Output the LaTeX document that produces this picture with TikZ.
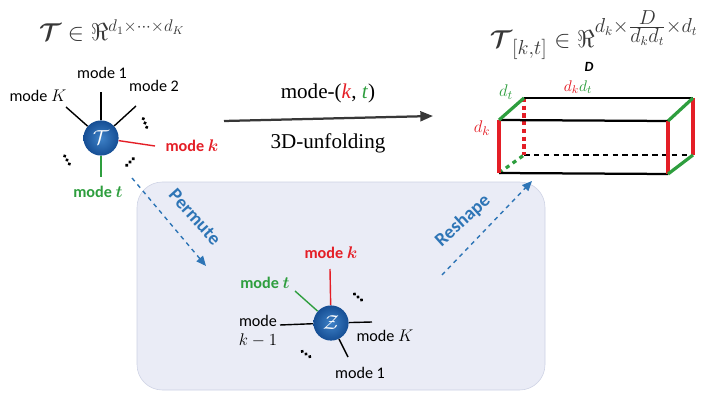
\documentclass[tikz,border=0pt]{standalone}
\usepackage{amsmath}
\usepackage{amssymb}
\usepackage{bm}
\usepackage{fontspec}
\setmainfont{Carlito}
\newfontfamily\timesfont{Liberation Serif}
\usepackage{xcolor}
\usetikzlibrary{
    shapes,
    calc,
    positioning,
    arrows.meta
}

\definecolor{modered}{RGB}{228,30,38}
\definecolor{modegreen}{RGB}{46,158,62}
\definecolor{opblue}{RGB}{46,117,182}
\definecolor{boxfill}{RGB}{234,236,246}
\definecolor{boxline}{RGB}{205,210,228}
\definecolor{tensorlight}{RGB}{62,130,200}
\definecolor{tensordark}{RGB}{22,78,148}
\definecolor{formulagray}{RGB}{55,55,55}

\begin{document}
\begin{tikzpicture}[x=0.025cm,y=-0.025cm]
                  \useasboundingbox (0,0) rectangle (704,394);

                  % Define styles:
                  \tikzset{
                        tensor/.style={circle, minimum size=25pt, inner sep=0pt, shading=radial, inner color=tensorlight, outer color=tensordark, text=white, font=\Large},
                        modelabel/.style={font=\fontsize{11.5}{13}\selectfont, inner sep=1pt},
                        leg/.style={line width=1pt},
                        manydots/.pic={\foreach \i in {-1,0,1} \fill (0,\i*4.6) circle[radius=1.3pt];},
                        opname/.style={font=\fontsize{13.5}{15}\selectfont\bfseries, text=opblue, inner sep=1pt},
                        oparrow/.style={-{Triangle[length=7pt,width=6pt]}, dashed, line width=1pt, opblue},
                        edge/.style={line width=1.6pt},
                        sideedge/.style={line width=2.3pt}
                  };

                  % Background panel for the permuted tensor
                  \draw[boxline, fill=boxfill, rounded corners=18pt] (137,182) rectangle (545,390);

                  % Formulas on top
                  \node[text=formulagray, font=\fontsize{17}{20}\selectfont] (formL) at (112,31) {$\bm{\mathcal{T}} \in \Re^{d_1\times\cdots\times d_K}$};
                  \node[text=formulagray, font=\fontsize{19}{22}\selectfont] (formR) at (594,35) {$\bm{\mathcal{T}}_{[k,t]} \in \Re^{d_k\times\frac{\scriptstyle D}{\scriptstyle d_k d_t}\times d_t}$};

                  % Tensor T with its modes
                  \node[tensor] (T) at (101,138) {$\mathcal{T}$};
                  \coordinate (T1) at (101,92);
                  \coordinate (T2) at (136,106);
                  \coordinate (TK) at (66,107);
                  \coordinate (Tk) at (155,146);
                  \coordinate (Tt) at (101,177);
                  \draw[leg] (T) -- (T1);
                  \draw[leg] (T) -- (T2);
                  \draw[leg] (T) -- (TK);
                  \draw[leg, modered] (T) -- (Tk);
                  \draw[leg, modegreen] (T) -- (Tt);
                  \node[modelabel] (T1_lab) at (102,73) {mode 1};
                  \node[modelabel] (T2_lab) at (154,86) {mode 2};
                  \node[modelabel] (TK_lab) at (38,96) {mode $K$};
                  \node[modelabel, text=modered, font=\fontsize{11.5}{13}\selectfont\bfseries] (Tk_lab) at (192,146) {mode $\bm{k}$};
                  \node[modelabel, text=modegreen, font=\fontsize{11.5}{13}\selectfont\bfseries] (Tt_lab) at (98,192) {mode $\bm{t}$};
                  \pic[rotate=22] at (145,123) {manydots};
                  \pic[rotate=30] at (67,160) {manydots};
                  \pic[rotate=-45] at (130,162) {manydots};

                  % Unfolding arrow
                  \coordinate (unf_start) at (224,121);
                  \coordinate (unf_end) at (433,116);
                  \draw[-{Triangle[length=9pt,width=7pt]}, line width=1.6pt, formulagray] (unf_start) -- (unf_end);
                  \node[font=\timesfont\fontsize{15}{17}\selectfont] (unf_top) at (328,93) {mode-(\textcolor{modered}{\textit{k}}, \textcolor{modegreen}{\textit{t}})};
                  \node[font=\timesfont\fontsize{15}{17}\selectfont] (unf_bot) at (328,143) {3D-unfolding};

                  % Unfolded tensor as a box
                  \coordinate (FTL) at (499,120);
                  \coordinate (FTR) at (668,121);
                  \coordinate (FBR) at (668,174);
                  \coordinate (FBL) at (499,173);
                  \coordinate (BTL) at (524,98);
                  \coordinate (BTR) at (693,98);
                  \coordinate (BBR) at (693,155);
                  \coordinate (BBL) at (524,155);
                  \draw[edge, dashed, dash pattern=on 4pt off 3pt] (BBL) -- (BBR);
                  \draw[sideedge, modered, dash pattern=on 3pt off 2.5pt] (BTL) -- (BBL);
                  \draw[sideedge, modegreen, dash pattern=on 3pt off 3pt] (FBL) -- (BBL);
                  \draw[edge] (BTL) -- (BTR);
                  \draw[edge] (FTL) -- (FTR);
                  \draw[edge] (FBL) -- (FBR);
                  \draw[sideedge, modered] (FTL) -- (FBL);
                  \draw[sideedge, modered] (FTR) -- (FBR);
                  \draw[sideedge, modered] (BTR) -- (BBR);
                  \draw[sideedge, modegreen] (FTL) -- (BTL);
                  \draw[sideedge, modegreen] (FTR) -- (BTR);
                  \draw[sideedge, modegreen] (FBR) -- (BBR);
                  \node[font=\fontsize{10}{12}\selectfont\bfseries\itshape] (D_lab) at (589,67) {D};
                  \node[font=\fontsize{13}{15}\selectfont, text=modegreen] (dt_lab) at (506,92) {$d_t$};
                  \node[font=\fontsize{13}{15}\selectfont, text=modered] (dk_lab) at (482,128) {$d_k$};
                  \node[font=\fontsize{11}{13}\selectfont] (dkdt_lab) at (578,87) {$\textcolor{modered}{d_k}\textcolor{modegreen}{d_t}$};

                  % Permute and reshape arrows
                  \coordinate (perm_start) at (132,178);
                  \coordinate (perm_end) at (206,266);
                  \draw[oparrow] (perm_start) -- (perm_end);
                  \node[opname, rotate=-48] (perm_lab) at (195,217) {Permute};
                  \coordinate (resh_start) at (442,275);
                  \coordinate (resh_end) at (532,181);
                  \draw[oparrow] (resh_start) -- (resh_end);
                  \node[opname, rotate=42] (resh_lab) at (463,221) {Reshape};

                  % Permuted tensor Z with its modes
                  \node[tensor] (Z) at (331,323) {$\mathcal{Z}$};
                  \coordinate (Zk) at (330,269);
                  \coordinate (Zt) at (295,291);
                  \coordinate (Zkm) at (280,325);
                  \coordinate (ZK) at (372,322);
                  \coordinate (Z1) at (348,357);
                  \draw[leg, modered] (Z) -- (Zk);
                  \draw[leg, modegreen] (Z) -- (Zt);
                  \draw[leg] (Z) -- (Zkm);
                  \draw[leg] (Z) -- (ZK);
                  \draw[leg] (Z) -- (Z1);
                  \node[modelabel, text=modered, font=\fontsize{11.5}{13}\selectfont\bfseries] (Zk_lab) at (331,253) {mode $\bm{k}$};
                  \node[modelabel, text=modegreen, font=\fontsize{11.5}{13}\selectfont\bfseries] (Zt_lab) at (265,283) {mode $\bm{t}$};
                  \node[modelabel, align=center, font=\fontsize{11.5}{13}\selectfont] (Zkm_lab) at (258,331) {mode\\$k-1$};
                  \node[modelabel] (ZK_lab) at (385,336) {mode $K$};
                  \node[modelabel] (Z1_lab) at (360,373) {mode 1};
                  \pic[rotate=50] at (358,297) {manydots};
                  \pic[rotate=55] at (306,354) {manydots};
            \end{tikzpicture}
\end{document}
